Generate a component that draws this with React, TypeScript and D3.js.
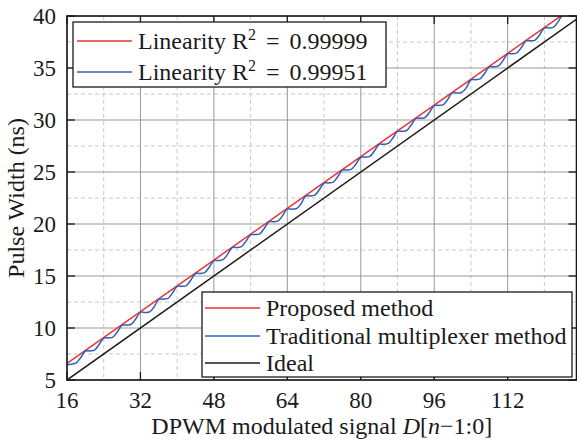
import React from 'react';
import * as d3 from 'd3';

const xTicks = [16, 32, 48, 64, 80, 96, 112];
const xMinor = [24, 40, 56, 72, 88, 104, 120];
const yTicks = [5, 10, 15, 20, 25, 30, 35, 40];
const yMinor = [7.5, 12.5, 17.5, 22.5, 27.5, 32.5, 37.5];

const idealCodes = [16, 128];
const idealValues = [5, 40];

const redCodes = [16, 32, 48, 64, 80, 96, 112, 128];
const redValues = [6.6, 11.57, 16.53, 21.5, 26.47, 31.44, 36.41, 41.37];

const blueCodes = d3.range(16, 129);
const blueValues = [
  6.5, 6.52, 6.64, 7.17,
  7.79, 7.8, 7.88, 8.41,
  9.03, 9.05, 9.12, 9.65,
  10.27, 10.28, 10.36, 10.89,
  11.52, 11.5, 11.55, 12.05,
  12.76, 12.77, 12.85, 13.38,
  14.0, 14.01, 14.08, 14.62,
  15.24, 15.25, 15.33, 15.86,
  16.48, 16.49, 16.57, 17.1,
  17.73, 17.74, 17.82, 18.35,
  18.97, 18.98, 19.06, 19.59,
  20.21, 20.22, 20.3, 20.83,
  21.45, 21.43, 21.48, 21.95,
  22.69, 22.7, 22.78, 23.31,
  23.94, 23.95, 24.03, 24.56,
  25.18, 25.19, 25.27, 25.8,
  26.42, 26.43, 26.51, 27.04,
  27.66, 27.67, 27.75, 28.28,
  28.9, 28.91, 28.99, 29.52,
  30.15, 30.16, 30.24, 30.77,
  31.39, 31.4, 31.48, 32.01,
  32.63, 32.6, 32.65, 33.1,
  33.87, 33.88, 33.96, 34.49,
  35.11, 35.12, 35.2, 35.73,
  36.36, 36.37, 36.45, 36.98,
  37.6, 37.61, 37.69, 38.22,
  38.84, 38.85, 38.93, 39.46,
  40.08, 40.09, 40.17, 40.7,
  41.32,
];

const W = 577;
const H = 443;
const L = 67, R = 576.5, T = 16, B = 380;
const FONT = '"Liberation Serif", "Times New Roman", serif';

export default function App() {
  const x = d3.scaleLinear().domain([16, 127]).range([L, R]);
  const y = d3.scaleLinear().domain([5, 40]).range([B, T]);
  const line = d3.line<[number, number]>().x(d => x(d[0])).y(d => y(d[1]));
  const smooth = d3.line<[number, number]>().x(d => x(d[0])).y(d => y(d[1])).curve(d3.curveCatmullRom.alpha(0.5));

  const ideal = line(idealCodes.map((c, i) => [c, idealValues[i]]));
  const red = line(redCodes.map((c, i) => [c, redValues[i]]));
  const blue = smooth(blueCodes.map((c, i) => [c, blueValues[i]]));

  const red_c = '#ee3333';
  const blue_c = '#2f5fb8';
  const blk = '#1a1a1a';

  return (
    <svg width={W} height={H} style={{ position: 'absolute', left: 0, top: 0 }} fontFamily={FONT}>
      <defs>
        <clipPath id="plot">
          <rect x={L} y={T} width={R - L} height={B - T} />
        </clipPath>
      </defs>
      <rect x={0} y={0} width={W} height={H} fill="#fff" />
      {xMinor.map(v => (
        <line key={'xm' + v} x1={x(v)} x2={x(v)} y1={T} y2={B} stroke="#c8c8c8" strokeWidth={1} strokeDasharray="4,3" />
      ))}
      {yMinor.map(v => (
        <line key={'ym' + v} x1={L} x2={R} y1={y(v)} y2={y(v)} stroke="#c8c8c8" strokeWidth={1} strokeDasharray="4,3" />
      ))}
      {xTicks.map(v => (
        <line key={'xg' + v} x1={x(v)} x2={x(v)} y1={T} y2={B} stroke="#999" strokeWidth={1} />
      ))}
      {yTicks.map(v => (
        <line key={'yg' + v} x1={L} x2={R} y1={y(v)} y2={y(v)} stroke="#999" strokeWidth={1} />
      ))}
      <g clipPath="url(#plot)">
        <path d={ideal ?? ''} fill="none" stroke={blk} strokeWidth={1.5} />
        <path d={red ?? ''} fill="none" stroke={red_c} strokeWidth={1.5} />
        <path d={blue ?? ''} fill="none" stroke={blue_c} strokeWidth={1.5} />
      </g>
      {xTicks.map(v => (
        <g key={'xt' + v}>
          <line x1={x(v)} x2={x(v)} y1={B} y2={B - 8} stroke={blk} strokeWidth={1.3} />
          <line x1={x(v)} x2={x(v)} y1={T} y2={T + 8} stroke={blk} strokeWidth={1.3} />
          <text x={x(v)} y={408} textAnchor="middle" fontSize={23} fill={blk}>{v}</text>
        </g>
      ))}
      {yTicks.map(v => (
        <g key={'yt' + v}>
          <line x1={L} x2={L + 8} y1={y(v)} y2={y(v)} stroke={blk} strokeWidth={1.3} />
          <line x1={R} x2={R - 8} y1={y(v)} y2={y(v)} stroke={blk} strokeWidth={1.3} />
          <text x={56} y={y(v) + 8} textAnchor="end" fontSize={23} fill={blk}>{v}</text>
        </g>
      ))}
      <rect x={L} y={T} width={R - L} height={B - T} fill="none" stroke={blk} strokeWidth={1.6} />

      <text x={(L + R) / 2} y={434} textAnchor="middle" fontSize={24} fill={blk}>
        DPWM modulated signal <tspan fontStyle="italic">D</tspan>[<tspan fontStyle="italic">n</tspan>−1:0]
      </text>
      <text transform={`translate(24, ${(T + B) / 2}) rotate(-90)`} textAnchor="middle" fontSize={24} fill={blk}>
        Pulse Width (ns)
      </text>

      <rect x={73} y={22} width={313} height={65} fill="#fff" stroke={blk} strokeWidth={1.3} />
      <line x1={77} x2={132} y1={41} y2={41} stroke={red_c} strokeWidth={1.5} />
      <line x1={77} x2={132} y1={72} y2={72} stroke={blue_c} strokeWidth={1.5} />
      <text x={138} y={49} fontSize={24} fill={blk}>
        Linearity R<tspan dy={-9} fontSize={16}>2</tspan><tspan dy={9} wordSpacing={4}> = 0.99999</tspan>
      </text>
      <text x={138} y={80} fontSize={24} fill={blk}>
        Linearity R<tspan dy={-9} fontSize={16}>2</tspan><tspan dy={9} wordSpacing={4}> = 0.99951</tspan>
      </text>

      <rect x={202} y={292} width={370} height={85} fill="#fff" stroke={blk} strokeWidth={1.3} />
      <line x1={205} x2={260} y1={308} y2={308} stroke={red_c} strokeWidth={1.5} />
      <line x1={205} x2={260} y1={336} y2={336} stroke={blue_c} strokeWidth={1.5} />
      <line x1={205} x2={260} y1={363} y2={363} stroke={blk} strokeWidth={1.5} />
      <text x={266} y={316} fontSize={24} fill={blk}>Proposed method</text>
      <text x={266} y={344} fontSize={24} fill={blk}>Traditional multiplexer method</text>
      <text x={266} y={371} fontSize={24} fill={blk}>Ideal</text>
    </svg>
  );
}
